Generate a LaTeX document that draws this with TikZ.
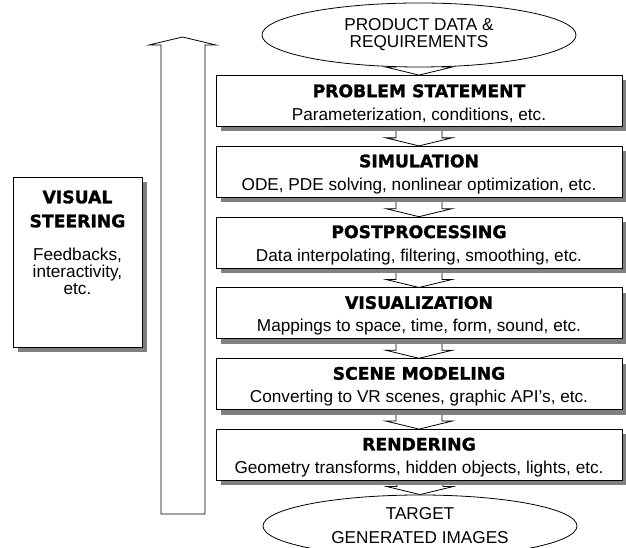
\documentclass[tikz,border=0pt]{standalone}
\usepackage{fontspec}
\setmainfont{Liberation Sans}
\newfontfamily\headfont{DejaVu Sans}[BoldFeatures={FakeBold=1.5}]
\usepackage{tikz}
\usetikzlibrary{calc,shadows,shapes.geometric,backgrounds,positioning}

\newcommand{\headline}[1]{{\headfont\bfseries #1}}
\newcommand{\stagetext}[2]{{\headfont\bfseries\rule{0pt}{17.5pt}#1}\\[6pt]#2}
% open block arrow from one node down to the next
\newcommand{\flowarrow}[2]{%
  \begin{scope}[on background layer]
  \draw[flowline] ($(#1.south)+(-23,0)$) -- ($(#2.north)+(-23,8)$)
     -- ($(#2.north)+(-33,8)$) -- (#2.north) -- ($(#2.north)+(33,8)$)
     -- ($(#2.north)+(23,8)$) -- ($(#1.south)+(23,0)$);
  \end{scope}}

\begin{document}
\begin{tikzpicture}[x=1pt, y=1pt, line width=0.8pt,
    font=\fontsize{17.2}{17}\selectfont,
    stage/.style={draw, fill=white, minimum width=406pt, minimum height=51pt,
      inner sep=0pt, align=center,
      drop shadow={shadow xshift=5pt, shadow yshift=-5pt, fill=black!50, opacity=1}},
    source/.style={draw, fill=white, ellipse, minimum width=314pt,
      minimum height=64pt, inner sep=0pt, align=center},
    flowline/.style={draw=black, line width=0.8pt, line join=miter}]
\useasboundingbox (0,0) rectangle (626,548);
%
\node[source] (prod) at (419,513) {PRODUCT DATA \&\\REQUIREMENTS};
\node[stage] (probl) at (419,447)
  {\stagetext{PROBLEM STATEMENT}{Parameterization, conditions, etc.}};
\node[stage, below=19pt of probl] (simul)
  {\stagetext{SIMULATION}{ODE, PDE solving, nonlinear optimization, etc.}};
\node[stage, below=19pt of simul] (post)
  {\stagetext{POSTPROCESSING}{Data interpolating, filtering, smoothing, etc.}};
\node[stage, below=19pt of post] (visu)
  {\stagetext{VISUALIZATION}{Mappings to space, time, form, sound, etc.}};
\node[stage, below=19pt of visu] (scene)
  {\stagetext{SCENE MODELING}{Converting to VR scenes, graphic API's, etc.}};
\node[stage, below=19pt of scene] (rend)
  {\stagetext{RENDERING}{Geometry transforms, hidden objects, lights, etc.}};
\node[source, minimum height=62pt] (target) at (420,22) {TARGET\\[7pt]GENERATED IMAGES};
%
\flowarrow{prod}{probl}
\flowarrow{probl}{simul}
\flowarrow{simul}{post}
\flowarrow{post}{visu}
\flowarrow{visu}{scene}
\flowarrow{scene}{rend}
\flowarrow{rend}{target}
%
\node[draw, fill=white, minimum width=129pt, minimum height=170pt, inner sep=0pt,
  drop shadow={shadow xshift=5pt, shadow yshift=-5pt, fill=black!50, opacity=1}]
  (steer) at (77.5,286) {};
\node[below=13.5pt of steer.north, inner sep=0pt, align=center] (steertext)
  {\headline{VISUAL}\\[7pt]\headline{STEERING}\\[16pt]Feedbacks,\\interactivity,\\etc.};
% feedback arrow
\draw[flowline] (161,34) -- (161,503) -- (149,503) -- (182.5,511) -- (216,503)
  -- (205,503) -- (205,34) -- cycle;
\end{tikzpicture}
\end{document}
